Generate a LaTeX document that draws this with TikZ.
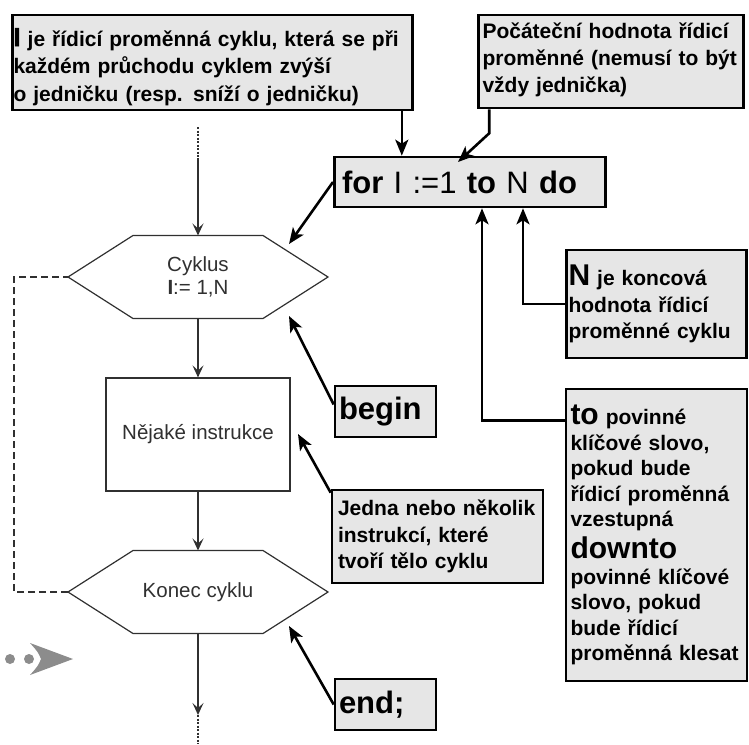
\documentclass[tikz,border=0pt]{standalone}
\usepackage{fontspec}
\setmainfont{Liberation Sans}
\newfontfamily\heavyfamily[FakeBold=2]{Liberation Sans}
\usetikzlibrary{arrows.meta}
\definecolor{notegray}{HTML}{E6E6E6}
\definecolor{flowgray}{HTML}{303030}
\definecolor{markgray}{HTML}{8C8C8C}
\newcommand{\bigword}[1]{{\fontsize{30}{30}\selectfont #1}}
% hexagon round an (undrawn) node
\newcommand{\drawhex}[1]{\draw[hexline] (#1.west) -- ([xshift=65pt]#1.north west) -- ([xshift=-65pt]#1.north east) -- (#1.east) -- ([xshift=-65pt]#1.south east) -- ([xshift=65pt]#1.south west) -- cycle;}
\begin{document}
\begin{tikzpicture}[x=1pt, y=-1pt,
  note/.style={draw=black, line width=2.6pt, fill=notegray, align=left,
    font=\bfseries\fontsize{21}{26.5}\selectfont, inner xsep=4pt, inner ysep=2pt},
  keyword/.style={note, font=\bfseries\fontsize{31}{31}\selectfont},
  callout/.style={line width=2.6pt, -{Stealth[length=16pt,width=13pt,inset=4pt]}},
  flowtext/.style={text=flowgray, font=\fontsize{20.5}{23.5}\selectfont, align=center},
  flowbox/.style={flowtext, draw=flowgray, line width=1.2pt, minimum width=184pt, minimum height=113pt},
  flowhex/.style={flowtext, minimum width=260pt, minimum height=83pt, inner sep=0pt, outer sep=0pt},
  hexline/.style={draw=flowgray, line width=1.2pt},
  flow/.style={draw=flowgray, line width=1.6pt, -{Stealth[length=12pt,width=11pt,inset=5pt]}},
  flowdot/.style={draw=flowgray, line width=1.6pt, dash pattern=on 2pt off 1.5pt},
  loopline/.style={draw=flowgray, line width=1.6pt, dash pattern=on 7pt off 4pt}]
\useasboundingbox (0,0) rectangle (749,744);

% flowchart
\node[flowhex] (cyklus) at (198,277) {Cyklus\\\textbf{I}:= 1,N};
\drawhex{cyklus}
\node[flowbox] (telo) at (198,434.5) {Nějaké instrukce};
\node[flowhex] (konec) at (198,592) {Konec cyklu};
\drawhex{konec}

\coordinate (vstup) at (198,127);
\coordinate (vstupA) at (198,158);
\coordinate (vystupA) at (198,715);
\coordinate (vystup) at (198,744);
\draw[flowdot] (vstup) -- (vstupA);
\draw[flow] (vstupA) -- (cyklus.north);
\draw[flow] (cyklus.south) -- (telo.north);
\draw[flow] (telo.south) -- (konec.north);
\draw[flow] (konec.south) -- (vystupA);
\draw[flowdot] (vystupA) -- (vystup);
\draw[loopline] (konec.west) -- ++(-54,0) |- (cyklus.west);

% notes
\node[note, text width=398pt, minimum height=95pt, inner xsep=1pt, text height=29pt, text depth=62pt,
      font=\bfseries\fontsize{21}{27.5}\selectfont] (ridici) at (212.5,62.5)
  {{\heavyfamily\fontsize{26}{26}\selectfont I} je řídicí proměnná cyklu, která se při\\
   každém průchodu cyklem zvýší\\
   o jedničku (resp. sníží o jedničku)};
\node[note, text width=257pt, minimum height=93pt, text height=21pt, text depth=68pt,
      font=\bfseries\fontsize{21}{27}\selectfont] (pocatek) at (611,61.5)
  {Počáteční hodnota řídicí\\proměnné (nemusí to být\\vždy jednička)};
\node[keyword, text width=256pt, minimum height=50pt, inner xsep=7.7pt] (forbox) at (470,182)
  {for \mdseries I :=1 \bfseries to \mdseries N \bfseries do};
\node[note, text width=176pt, minimum height=108pt, inner xsep=2pt] (konecna) at (656.5,304)
  {\bigword{N} je koncová\\hodnota řídicí\\proměnné cyklu};
\node[note, text width=172pt, minimum height=292pt, inner xsep=4.5pt,
      font=\bfseries\fontsize{21}{25.5}\selectfont] (toslovo) at (656.5,535)
  {\bigword{to} povinné\\klíčové slovo,\\pokud bude\\řídicí proměnná\\vzestupná\\[5pt]
   \bigword{downto}\\povinné klíčové\\slovo, pokud\\bude řídicí\\proměnná klesat};
\node[keyword, text width=93pt, minimum height=51pt] (zacatek) at (385.5,411.5) {begin};
\node[note, text width=199pt, minimum height=93pt, inner xsep=6pt] (prikazy) at (437.5,536.5)
  {Jedna nebo několik\\instrukcí, které\\tvoří tělo cyklu};
\node[keyword, text width=93pt, minimum height=51pt] (konecslovo) at (385.5,704.5) {end;};

% callouts
\coordinate (hodnota) at (458,162);
\coordinate (hexhore) at (289,244);
\coordinate (hexdole) at (289,316);
\coordinate (telobok) at (298,434);
\coordinate (konecdole) at (289,626);
\draw[callout] ([xshift=-12pt]ridici.south east) -- ([xshift=-12pt]ridici.south east |- forbox.north);
\draw[callout] ([xshift=12pt]pocatek.south west) -- ++(0,24) -- (hodnota);
\draw[callout] (forbox.west) -- (hexhore);
\draw[callout] (konecna.west) -| ([xshift=53pt]forbox.south);
\draw[callout] ([yshift=-33pt]toslovo.north west) -| ([xshift=12pt]forbox.south);
\draw[callout] ([yshift=7pt]zacatek.west) -- (hexdole);
\draw[callout] ([yshift=-4pt]prikazy.north west) -- (telobok);
\draw[callout] (konecslovo.west) -- (konecdole);

% grey marker
\fill[markgray] (10,659) circle (5pt) (29,659) circle (5pt);
\fill[markgray] (73,659) -- (30,643) .. controls (38,652) .. (41,659) .. controls (38,666) .. (30,675) -- cycle;
\end{tikzpicture}
\end{document}
